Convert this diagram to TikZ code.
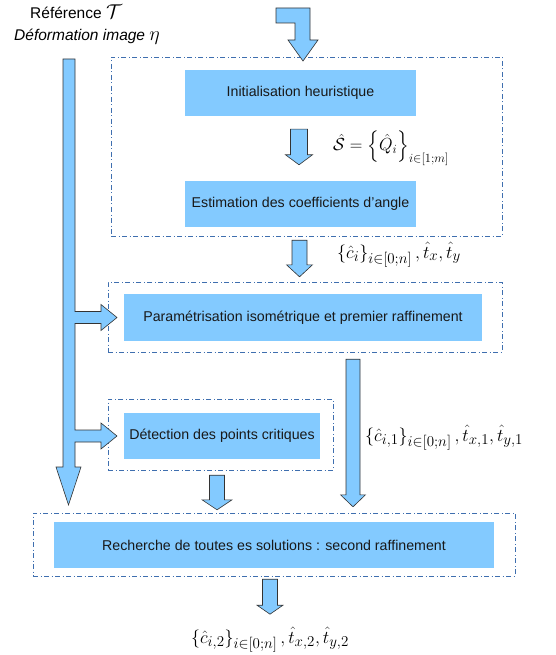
\RequirePackage{fix-cm}
\documentclass[tikz,border=0pt]{standalone}
\usepackage{amsmath,amssymb}
\usepackage[no-math]{fontspec}
\setmainfont{Liberation Sans}
\usetikzlibrary{calc}
\DeclareMathSizes{18}{18}{15}{12}
\DeclareMathSizes{17.5}{17.5}{12.5}{10}
\definecolor{skyb}{HTML}{83CAFF}
\definecolor{framec}{HTML}{3F6FAF}
\tikzset{
  stage/.style = {fill=skyb, inner sep=0pt, align=center, text=black!90,
                  font=\fontsize{14.2}{16}\selectfont},
  frm/.style   = {draw=framec, line width=0.8pt, inner sep=0pt,
                  dash pattern=on 5pt off 2.5pt on 1pt off 2.5pt},
  blk/.style   = {fill=skyb, draw=black!80, line width=0.6pt, line join=miter},
  mlbl/.style  = {inner sep=0pt, font=\fontsize{18}{22}\selectfont},
  tlbl/.style  = {inner sep=0pt, font=\fontsize{15.5}{18}\selectfont}
}
% block arrow pointing down: start, end, half shaft, half head, head length
\newcommand{\blkarrow}[5]{%
  \draw[blk] let \p1=(#1), \p2=(#2) in
    (\x1-#3,\y1) -- (\x1+#3,\y1) -- (\x1+#3,\y2+#5) -- (\x1+#4,\y2+#5)
    -- (\x1,\y2) -- (\x1-#4,\y2+#5) -- (\x1-#3,\y2+#5) -- cycle;}
\newcommand{\symbig}[1]{{\fontsize{20}{20}\selectfont$#1$}}

\begin{document}
\begin{tikzpicture}[x=1pt, y=1pt]
\useasboundingbox (0,0) rectangle (555,-655);

% frames
\node[frm, minimum width=391, minimum height=179] (fr1) at (306.5,-146.5) {};
\node[frm, minimum width=394, minimum height=70]  (fr2) at (305,-317) {};
\node[frm, minimum width=225, minimum height=71]  (fr3) at (220.5,-434.5) {};
\node[frm, minimum width=482, minimum height=63]  (fr4) at (274,-544.5) {};

% stages
\node[stage, minimum width=231, minimum height=46] (init) at (300.5,-93)
  {Initialisation heuristique};
\node[stage, minimum width=231, minimum height=46] (estim) at (300.5,-204)
  {Estimation des coefficients d'angle};
\node[stage, minimum width=358, minimum height=47] (param) at (303,-317.5)
  {Paramétrisation isométrique et premier raffinement};
\node[stage, minimum width=196, minimum height=46] (detect) at (222,-436)
  {Détection des points critiques};
\node[stage, minimum width=440, minimum height=46] (search) at (274,-545)
  {Recherche de toutes es solutions : second raffinement};

% inputs
\node[tlbl, anchor=base west] (ref) at (30,-19) {Référence \symbig{\mathcal{T}}};
\node[tlbl, anchor=base west] (def) at (14,-41) {\textit{Déformation image} \symbig{\eta}};

% outputs
\node[mlbl, anchor=base west, font=\fontsize{17.5}{22}\selectfont] (outs) at (333,-151)
  {$\hat{\mathcal{S}} = \left\{\hat{Q}_i\right\}_{i\in[1;m]}$};
\node[mlbl, anchor=base west] (outc) at (337,-258)
  {$\{\hat{c}_i\}_{i\in[0;n]}\,, \hat{t}_x, \hat{t}_y$};
\node[mlbl, anchor=base west] (outc1) at (365,-441)
  {$\{\hat{c}_{i,1}\}_{i\in[0;n]}\,, \hat{t}_{x,1}, \hat{t}_{y,1}$};
\node[mlbl, anchor=base] (outc2) at (270,-643)
  {$\{\hat{c}_{i,2}\}_{i\in[0;n]}\,, \hat{t}_{x,2}, \hat{t}_{y,2}$};

% entry arrow
\draw[blk] (276,-8) -- (310,-8) -- (310,-40) -- (318,-40) -- (303,-61)
  -- (288,-40) -- (295,-40) -- (295,-23) -- (276,-23) -- cycle;

% reference / deformation feed
\draw[blk] let \p1=(param.west), \p2=(detect.west) in
  (63,-59) -- (75,-59) -- (75,\y1+6) -- (101,\y1+6) -- (101,\y1+13)
  -- (117,\y1) -- (101,\y1-13) -- (101,\y1-6) -- (75,\y1-6)
  -- (75,\y2+6) -- (101,\y2+6) -- (101,\y2+13) -- (117,\y2)
  -- (101,\y2-13) -- (101,\y2-6) -- (75,\y2-6) -- (75,-467)
  -- (81,-467) -- (68.5,-505) -- (56,-467) -- (63,-467) -- cycle;

\blkarrow{$(init.south)+(-1.5,-13)$}{$(estim.north)+(0,16)$}{8.5}{13.5}{10}
\blkarrow{$(estim.south)+(-1,-13)$}{$(param.north)+(0,17)$}{7.5}{13}{12}
\blkarrow{$(param.south)+(50,-18)$}{$(search.north)+(0,15)$}{7}{12.5}{12}
\blkarrow{$(detect.south)+(-5,-16)$}{$(search.north)+(0,12)$}{7.5}{15}{10}
\blkarrow{$(search.south)+(-4,-11)$}{$(search.south)+(0,-46)$}{7.5}{13}{9}
\end{tikzpicture}
\end{document}
